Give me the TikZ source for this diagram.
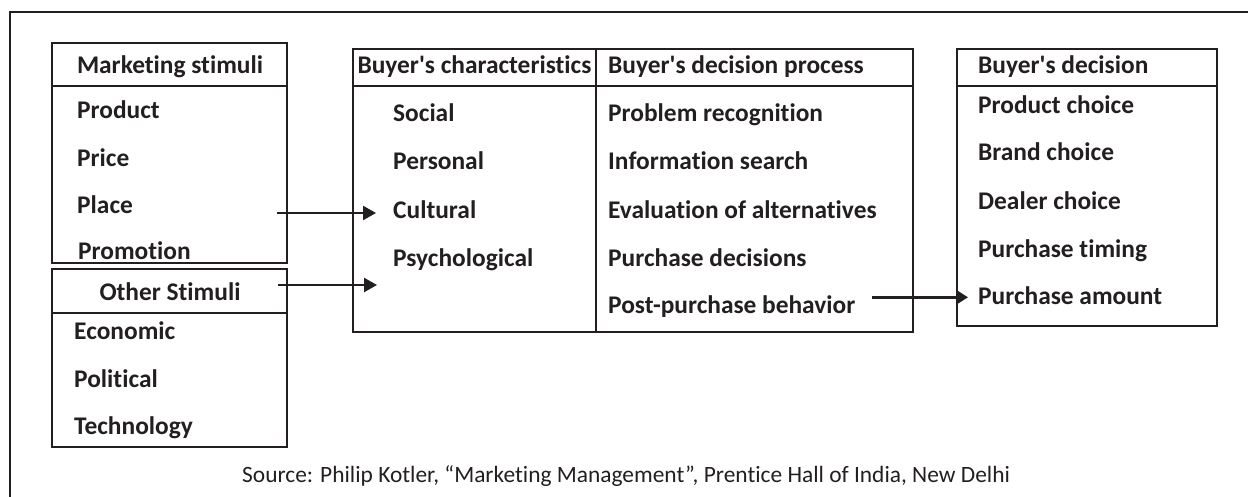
\documentclass[tikz,border=0pt]{standalone}
\usepackage{fontspec}
\setmainfont{Carlito}[Ligatures=NoCommon]
\usetikzlibrary{arrows.meta}
\definecolor{ink}{HTML}{231F20}
\newcommand{\apos}{\textquotesingle}
\begin{document}
\begin{tikzpicture}[x=1pt,y=-1pt,
  rule/.style={draw=ink, line width=2.6pt},
  box/.style={draw=ink, line width=2.6pt, anchor=north west, inner sep=0pt, outer sep=0pt},
  item/.style={anchor=base west, inner sep=0pt, text=ink, font=\bfseries\fontsize{25.4}{30}\selectfont},
  head/.style={item, anchor=base},
  arr/.style={draw=ink, line width=2.4pt, -{Triangle[length=13pt,width=14pt]}},
  arrsmall/.style={draw=ink, line width=2.4pt, -{Triangle[length=10pt,width=12pt]}},
  src/.style={anchor=base west, inner sep=0pt, text=ink, font=\fontsize{23.4}{28}\selectfont}]
\useasboundingbox (0,0) rectangle (1248,497);

% open frame: only the top and left edges show
\draw[rule] (10,497) -- (10,12) -- (1250,12);

% boxes
\node[box, minimum width=235, minimum height=220] (mkt) at (52,43) {};
\node[box, minimum width=235, minimum height=178] (oth) at (52,269) {};
\node[box, minimum width=560, minimum height=283] (buyer) at (353,49) {};
\node[box, minimum width=260, minimum height=277] (dec) at (957,49) {};

% header rules and the column divider
\draw[rule] (52,86) -- (287,86);
\draw[rule] (52,313) -- (287,313);
\draw[rule] (353,86) -- (913,86);
\draw[rule] (596,49) -- (596,332);
\draw[rule] (957,86) -- (1217,86);

% marketing stimuli
\node[head] (mkth) at (170,73.3) {Marketing stimuli};
\node[item] (product) at (77,119) {Product};
\node[item] (price) at (77,166.5) {Price};
\node[item] (place) at (77,214) {Place};
\node[item] (promo) at (78,259) {Promotion};

% other stimuli
\node[head] (othh) at (170,300) {Other Stimuli};
\node[item] (econ) at (74,339.5) {Economic};
\node[item] (pol) at (74,387) {Political};
\node[item] (tech) at (74,434.5) {Technology};

% buyer's characteristics
\node[head] (charh) at (474.5,73.3) {Buyer\apos s characteristics};
\node[item] (social) at (393,121.7) {Social};
\node[item] (personal) at (393,170) {Personal};
\node[item] (cultural) at (393,218.3) {Cultural};
\node[item] (psych) at (393,266.7) {Psychological};

% buyer's decision process
\node[item] (proch) at (608,73.3) {Buyer\apos s decision process};
\node[item] (problem) at (608,121.7) {Problem recognition};
\node[item] (info) at (608,170) {Information search};
\node[item] (evalu) at (608,218.3) {Evaluation of alternatives};
\node[item] (pdec) at (608,266.7) {Purchase decisions};
\node[item] (post) at (608,313.3) {Post-purchase behavior};

% buyer's decision
\node[item] (dech) at (978,73.3) {Buyer\apos s decision};
\node[item] (prodc) at (978,113.3) {Product choice};
\node[item] (brand) at (978,160.7) {Brand choice};
\node[item] (dealer) at (978,209.3) {Dealer choice};
\node[item] (timing) at (978,257.3) {Purchase timing};
\node[item] (amount) at (978,305) {Purchase amount};

% arrows
\coordinate (a1s) at (277,213);
\coordinate (a1e) at (376,213);
\coordinate (a2s) at (278,285);
\coordinate (a2e) at (377,285);
\coordinate (a3s) at (872,297.3);
\coordinate (a3e) at (968,297.3);
\draw[arr] (a1s) -- (a1e);
\draw[arr] (a2s) -- (a2e);
\draw[arrsmall] (a3s) -- (a3e);

% source line
\node[src] (source) at (242,482) {Source: Philip Kotler, “Marketing Management”, Prentice Hall of India, New Delhi};
\end{tikzpicture}
\end{document}
